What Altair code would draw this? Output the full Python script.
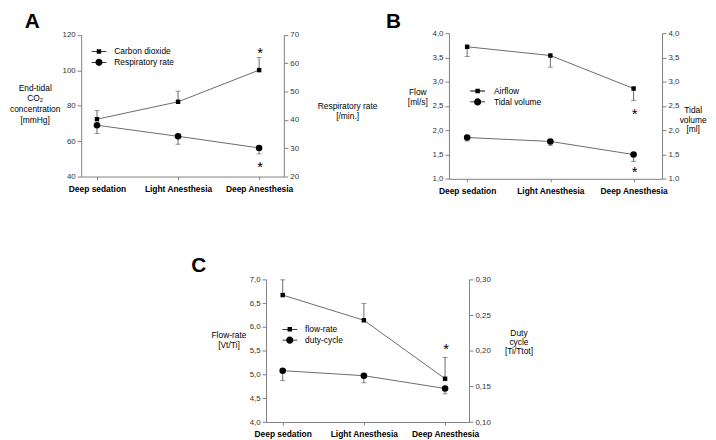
import altair as alt
import pandas as pd

# ---------------- data ----------------
stages = ["Deep sedation", "Light Anesthesia", "Deep Anesthesia"]

co2_name = "Carbon dioxide"
co2_mean = [72.4, 82.2, 100.1]
co2_err = [4.8, 6.0, 7.1]
co2_sig = [False, False, True]

rr_name = "Respiratory rate"
rr_mean = [38.1, 34.2, 30.1]
rr_err = [2.9, 2.8, 2.1]
rr_sig = [False, False, True]

air_name = "Airflow"
air_mean = [3.72, 3.54, 2.86]
air_err = [0.20, 0.24, 0.25]
air_sig = [False, False, True]

tv_name = "Tidal volume"
tv_mean = [1.85, 1.77, 1.50]
tv_err = [0.07, 0.08, 0.14]
tv_sig = [False, False, True]

fr_name = "flow-rate"
fr_mean = [6.67, 6.14, 4.91]
fr_err = [0.32, 0.35, 0.45]
fr_sig = [False, False, True]

dc_name = "duty-cycle"
dc_mean = [0.172, 0.165, 0.147]
dc_err = [0.014, 0.010, 0.0075]
dc_sig = [False, False, False]

# ---------------- style ----------------
W, H = 708, 432
FONT = "Liberation Sans"
LINE = "#444444"
AXC = "#808080"
# legend glyphs: a thin filled bar (the line) plus the marker
BAR = "M-1.67,-0.09H1.67V0.09H-1.67Z"
SQUARE_LEG = BAR + "M-0.5,-0.5H0.5V0.5H-0.5Z"
CIRCLE_LEG = BAR + "M-0.8,0A0.8,0.8,0,1,1,0.8,0A0.8,0.8,0,1,1,-0.8,0Z"


def frame(mean, err, sig, direction):
    df = pd.DataFrame({"stage": stages, "mean": mean, "err": err, "sig": sig})
    df["end"] = df["mean"] + direction * df["err"]
    return df


def yaxis(orient, offset, values, expr, title, tx, ty, lh):
    return alt.Axis(
        orient=orient, offset=offset, values=values, labelExpr=expr,
        title=title, titleAngle=0, titleX=tx, titleY=ty, titleAlign="center",
        titleBaseline="top", titleLineHeight=lh, titleFont=FONT,
        titleFontSize=8.5, titleFontWeight="normal", titleColor="black",
        labelFont=FONT, labelFontSize=8, labelColor="#333333",
        domainColor=AXC, tickColor=AXC, tickSize=4, labelPadding=2, grid=False)


def xaxis(offset, letter, tx, ty):
    return alt.Axis(
        orient="bottom", offset=offset, title=letter, titleX=tx, titleY=ty,
        titleFont=FONT, titleFontSize=21, titleFontWeight="bold",
        titleColor="black", titleAlign="center", titleBaseline="alphabetic",
        labelAngle=0, labelFont=FONT, labelFontSize=8.5, labelFontWeight="bold",
        labelColor="black", tickSize=3, labelPadding=5,
        domainColor=AXC, tickColor=AXC, grid=False)


def series_layers(df, xs, ys, yax, xax, shape, size, star_dy):
    x = alt.X("stage:N", sort=stages, scale=xs, axis=None)
    y = alt.Y("mean:Q", scale=ys, axis=None)
    yend = alt.Y("end:Q", scale=ys, axis=None)
    base = alt.Chart(df)
    line = base.mark_line(color=LINE, strokeWidth=0.8).encode(
        x=alt.X("stage:N", sort=stages, scale=xs, axis=xax) if xax is not None else x,
        y=alt.Y("mean:Q", scale=ys, axis=yax))
    err = base.mark_rule(color=LINE, strokeWidth=0.8).encode(x=x, y=y, y2="end:Q")
    cap = base.mark_tick(color=LINE, thickness=0.8, size=5).encode(x=x, y=yend)
    pts = base.mark_point(shape=shape, filled=True, size=size, color="black",
                          opacity=1).encode(x=x, y=y)
    star = base.transform_filter("datum.sig").mark_text(
        text="*", fontSize=15, font=FONT, dy=star_dy, dx=1, color="black",
        baseline="middle").encode(x=x, y=yend)
    return [line, err, cap, pts, star]


def legend_layer(names, lx, ly, loff):
    df = pd.DataFrame({"series": names})
    return alt.Chart(df).mark_point(filled=True, opacity=0, color="black").encode(
        shape=alt.Shape(
            "series:N", sort=names,
            scale=alt.Scale(domain=names, range=[SQUARE_LEG, CIRCLE_LEG]),
            legend=alt.Legend(
                orient="none", legendX=lx, legendY=ly, title=None,
                labelFont=FONT, labelFontSize=8.5, labelColor="black",
                symbolSize=81, symbolFillColor="#111111",
                symbolStrokeColor="transparent", symbolStrokeWidth=0,
                symbolOpacity=1, labelOffset=loff, rowPadding=2, padding=0)))


def xscale(lo, hi, pad, align):
    return alt.Scale(type="point", domain=stages, range=[lo, hi],
                     padding=pad, align=align)


def yscale(dom, lo, hi):
    return alt.Scale(domain=dom, range=[lo, hi], nice=False, zero=False)


COMMA1 = "replace(format(datum.value, '.1f'), '.', ',')"
COMMA2 = "replace(format(datum.value, '.2f'), '.', ',')"
INT = "format(datum.value, 'd')"

layers = []

# ---------------- panel A ----------------
xsA = xscale(74, 279, 0.25, 0.39)
ysA1 = yscale([40, 120], 168, 24.7)
ysA2 = yscale([20, 70], 168, 24.7)
layers += series_layers(
    frame(co2_mean, co2_err, co2_sig, 1), xsA, ysA1,
    yaxis("left", -74, [40, 60, 80, 100, 120], INT,
          ["End-tidal", "CO\u2082", "concentration", "[mmHg]"], -47, 73.7, 10.8),
    xaxis(168 - H, "A", 24, 17 - 168), "square", 20, -4.5)
layers += series_layers(
    frame(rr_mean, rr_err, rr_sig, -1), xsA, ysA2,
    yaxis("right", 279 - W, [20, 30, 40, 50, 60, 70], INT,
          ["Respiratory rate", "[/min.]"], 64, 92, 10),
    None, "circle", 44, 13.3)
layers.append(legend_layer([co2_name, rr_name], 87.5, 37, 11))

# ---------------- panel B ----------------
xsB = xscale(446, 661.5, 0.28, 0.39)
ysB1 = yscale([1, 4], 170.3, 23)
ysB2 = yscale([1, 4], 170.3, 23)
bticks = [1.0, 1.5, 2.0, 2.5, 3.0, 3.5, 4.0]
layers += series_layers(
    frame(air_mean, air_err, air_sig, -1), xsB, ysB1,
    yaxis("left", -446, bticks, COMMA1, ["Flow", "[ml/s]"], -32, 77.7, 10),
    xaxis(170.3 - H, "B", 389.5, 17 - 170.3), "square", 20, 13.7)
layers += series_layers(
    frame(tv_mean, tv_err, tv_sig, -1), xsB, ysB2,
    yaxis("right", 661.5 - W, bticks, COMMA1, ["Tidal", "volume", "[ml]"], 31, 96.5, 9.5),
    None, "circle", 44, 11.3)
layers.append(legend_layer([air_name, tv_name], 470.5, 77, 12))

# ---------------- panel C ----------------
xsC = xscale(261, 466.3, 0.25, 0.41)
ysC1 = yscale([4, 7], 416.3, 272)
ysC2 = yscale([0.10, 0.30], 416.3, 272)
layers += series_layers(
    frame(fr_mean, fr_err, fr_sig, 1), xsC, ysC1,
    yaxis("left", -261, [4.0, 4.5, 5.0, 5.5, 6.0, 6.5, 7.0], COMMA1,
          ["Flow-rate", "[Vt/Ti]"], -38, 324, 10),
    xaxis(416.3 - H, "C", 192.5, 264 - 416.3), "square", 20, -8.6)
layers += series_layers(
    frame(dc_mean, dc_err, dc_sig, -1), xsC, ysC2,
    yaxis("right", 466.3 - W, [0.10, 0.15, 0.20, 0.25, 0.30], COMMA2,
          ["Duty", "cycle", "[Ti/Ttot]"], 50, 322, 9),
    None, "circle", 44, 12)
layers.append(legend_layer([fr_name, dc_name], 280.5, 318, 11))

chart = (
    alt.layer(*layers)
    .resolve_scale(x="independent", y="independent", shape="independent")
    .properties(width=W, height=H, padding=0,
                autosize=alt.AutoSizeParams(type="none"))
    .configure_view(stroke=None)
)

chart.save("out.html", embed_options={"renderer": "svg", "actions": False})
